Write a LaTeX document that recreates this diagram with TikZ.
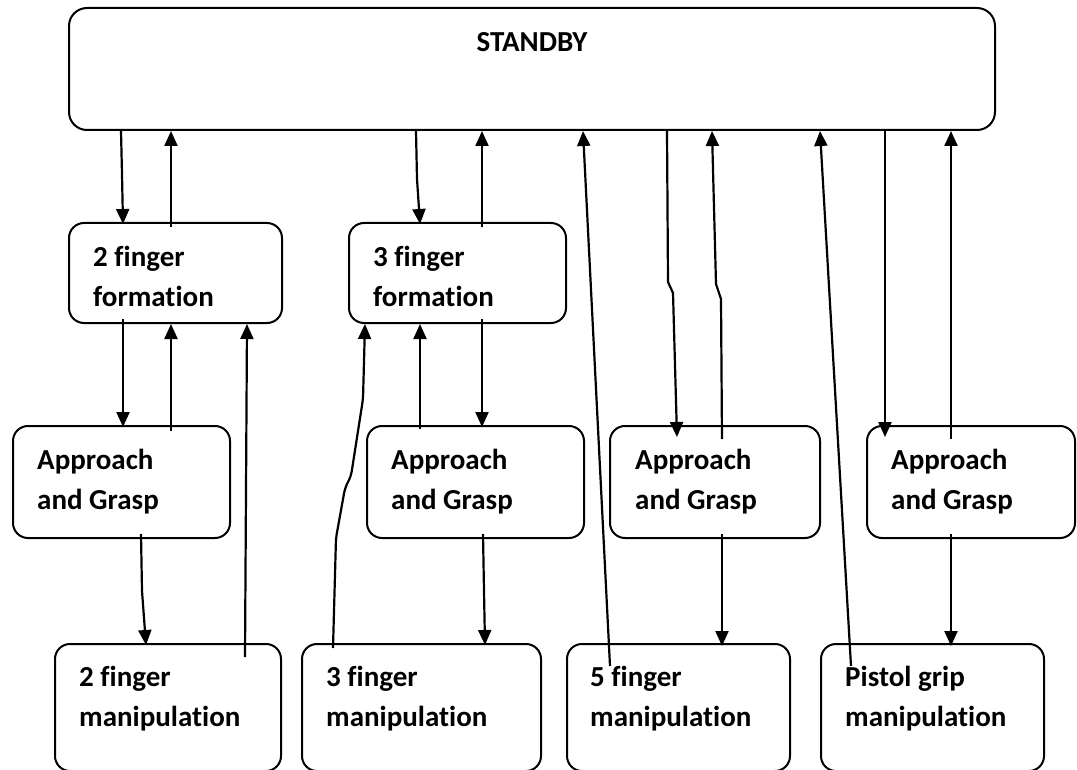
\documentclass[tikz,border=0pt]{standalone}
\usepackage{fontspec}
\setmainfont{Carlito}[Ligatures=NoCommon]
\usetikzlibrary{arrows.meta,calc}

\tikzset{
  box/.style={draw, line width=2pt, rounded corners=15pt, inner sep=0pt},
  lbl/.style={anchor=north west, inner sep=0pt, align=left,
              font={\fontsize{29}{40}\selectfont\bfseries}},
  arr/.style={line width=2.2pt, -{Triangle[length=15pt,width=13pt]}},
}
% first-line strut: fixes the distance from the label's top to its first baseline
\newcommand\firstline{\rule{0pt}{30pt}}

\begin{document}
\begin{tikzpicture}[x=1pt, y=-1pt]
  \useasboundingbox (0,0) rectangle (1077,770);

  % states
  \node[box, rounded corners=18pt, minimum width=926pt, minimum height=122pt] (sb) at (532,69) {};
  \node[font={\fontsize{29}{40}\selectfont\bfseries}, anchor=base, inner sep=0pt] (sbt) at ($(sb.north)+(0,45)$) {STANDBY};

  \node[box, minimum width=213pt, minimum height=100pt] (ff2) at (175.5,273) {};
  \node[box, minimum width=217pt, minimum height=100pt] (ff3) at (457.5,273) {};

  \node[box, minimum width=217pt, minimum height=112pt] (a1) at (121.5,482) {};
  \node[box, minimum width=217pt, minimum height=112pt] (a2) at (475.5,482) {};
  \node[box, minimum width=210pt, minimum height=112pt] (a3) at (715,482) {};
  \node[box, minimum width=208pt, minimum height=112pt] (a4) at (971,482) {};

  \node[box, minimum width=226pt, minimum height=127pt] (m1) at (168,707.5) {};
  \node[box, minimum width=239pt, minimum height=127pt] (m2) at (421.5,707.5) {};
  \node[box, minimum width=223pt, minimum height=127pt] (m3) at (678.5,707.5) {};
  \node[box, minimum width=223pt, minimum height=127pt] (m4) at (932.5,707.5) {};

  % labels, set at the upper left of each state
  \node[lbl] (ff2t) at ($(ff2.north west)+(25,14)$) {\firstline 2 finger\\formation};
  \node[lbl] (ff3t) at ($(ff3.north west)+(25,14)$) {\firstline 3 finger\\formation};
  \node[lbl] (a1t) at ($(a1.north west)+(25,14)$) {\firstline Approach\\and Grasp};
  \node[lbl] (a2t) at ($(a2.north west)+(25,14)$) {\firstline Approach\\and Grasp};
  \node[lbl] (a3t) at ($(a3.north west)+(26,14)$) {\firstline Approach\\and Grasp};
  \node[lbl] (a4t) at ($(a4.north west)+(25,14)$) {\firstline Approach\\and Grasp};
  \node[lbl] (m1t) at ($(m1.north west)+(25,13)$) {\firstline 2 finger\\manipulation};
  \node[lbl] (m2t) at ($(m2.north west)+(25,13)$) {\firstline 3 finger\\manipulation};
  \node[lbl] (m3t) at ($(m3.north west)+(24,13)$) {\firstline 5 finger\\manipulation};
  \node[lbl] (m4t) at ($(m4.north west)+(25,13)$) {\firstline Pistol grip\\manipulation};

  % standby <-> formations
  \draw[arr] ([xshift=53pt]sb.south west) -- ++(1,43) -- ([xshift=55pt,yshift=-2pt]ff2.north west);
  \draw[arr] ([xshift=103pt,yshift=-5pt]ff2.north west) -- ([xshift=103pt]sb.south west);
  \draw[arr] ([xshift=348pt]sb.south west) -- ++(1,48) -- ([xshift=72pt,yshift=-2pt]ff3.north west);
  \draw[arr] ([xshift=134pt,yshift=-5pt]ff3.north west) -- ([xshift=414pt]sb.south west);

  % 2 finger branch
  \draw[arr] ([xshift=55pt,yshift=5pt]ff2.south west) -- ([xshift=111pt,yshift=-2pt]a1.north west);
  \draw[arr] ([xshift=159pt,yshift=-6pt]a1.north west) -- ([xshift=103pt]ff2.south west);
  \draw[arr] ([xshift=129pt,yshift=5pt]a1.south west) -- ++(1,57) -- ([xshift=92pt,yshift=-2pt]m1.north west);
  \draw[arr] ([xshift=191pt,yshift=-14pt]m1.north west) -- ([xshift=179pt]ff2.south west);

  % 3 finger branch
  \draw[arr] ([xshift=134pt,yshift=5pt]ff3.south west) -- ([xshift=116pt,yshift=-2pt]a2.north west);
  \draw[arr] ([xshift=54pt,yshift=-4pt]a2.north west) -- ([xshift=72pt]ff3.south west);
  \draw[arr] ([xshift=117pt,yshift=5pt]a2.south west) -- ++(1,57) -- ([xshift=184pt,yshift=-2pt]m2.north west);
  \draw[arr, rounded corners=5pt] ([xshift=32pt,yshift=-5pt]m2.north west)
      -- ++(3,-110) -- ++(9,-50) -- ++(6,-12) -- ++(12,-77) -- ([xshift=17pt]ff3.south west);

  % 5 finger branch
  \draw[arr] ([xshift=599pt]sb.south west) -- ++(1,151) -- ++(5,11) -- ([xshift=68pt,yshift=-12pt]a3.north west);
  \draw[arr] ([xshift=113pt,yshift=-14pt]a3.north west) -- ++(-1,-140) -- ++(-5,-15) -- ([xshift=644pt]sb.south west);
  \draw[arr] ([xshift=113pt,yshift=5pt]a3.south west) -- ([xshift=156pt,yshift=-3pt]m3.north west);
  \draw[arr] ([xshift=44pt,yshift=-23pt]m3.north west) -- ([xshift=515pt]sb.south west);

  % pistol grip branch
  \draw[arr] ([xshift=817pt]sb.south west) -- ([xshift=19pt,yshift=-12pt]a4.north west);
  \draw[arr] ([xshift=85pt,yshift=-14pt]a4.north west) -- ([xshift=883pt]sb.south west);
  \draw[arr] ([xshift=85pt,yshift=5pt]a4.south west) -- ([xshift=131pt,yshift=-3pt]m4.north west);
  \draw[arr] ([xshift=31pt,yshift=-23pt]m4.north west) -- ([xshift=752pt]sb.south west);
\end{tikzpicture}
\end{document}
